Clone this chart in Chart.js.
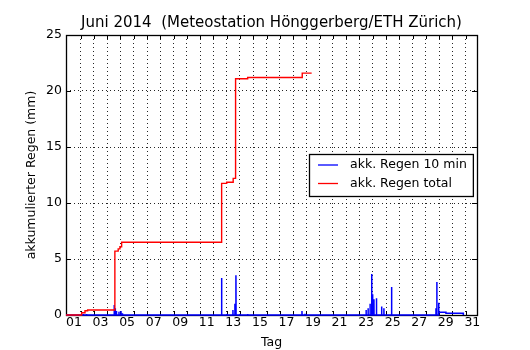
<!DOCTYPE html>
<html>
<head>
<meta charset="utf-8">
<script src="https://cdn.jsdelivr.net/npm/chart.js@4.4.1/dist/chart.umd.min.js"></script>
<style>
    html, body { margin: 0; padding: 0; background: #fff; }
</style>
</head>
<body>
<canvas id="rainChart" width="530" height="350"></canvas>
<script>
// x = Tag im Juni als Dezimalzahl, 1.0 = 01.06. 00:00
const titleText = 'Juni 2014  (Meteostation Hönggerberg/ETH Zürich)';

// akkumulierter Regen total (Treppenlinie)
const totalDays = [0.9, 2.08, 2.33, 2.53, 4.58, 4.83, 4.96, 5.09, 12.62, 13.0, 13.49, 13.67, 14.58, 18.69, 19.4];
const totalMm   = [0,   0.2,  0.38, 0.45, 5.7,  5.9,  6.1,  6.5,  11.75, 11.85, 12.2, 21.1, 21.2, 21.6, 21.6];

// Regen pro 10 min: einzelne Spitzen
const burstDays = [2.2, 2.45, 4.53, 4.61, 4.7, 4.89, 5.04, 5.15, 12.62, 13.02, 13.47, 13.62, 13.7, 14.0, 14.58,
                   18.67, 18.9, 23.5, 23.65, 23.8, 23.92, 23.99, 24.09, 24.28, 24.67, 24.84, 25.42, 28.76, 28.83, 28.96];
const burstMm   = [0.1, 0.1, 0.9, 0.6, 0.35, 0.3, 0.35, 0.15, 3.3, 0.1, 0.45, 1.0, 3.55, 0.1, 0.1,
                   0.35, 0.1, 0.45, 0.6, 1.0, 3.65, 1.85, 1.4, 1.5, 0.75, 0.6, 2.5, 0.6, 2.95, 1.1];
// Nieselregen am Monatsende
const tailDays = [28.98, 29.51, 29.51, 30.82, 30.82];
const tailMm   = [0.25,  0.25,  0.15,  0.15,  0];

const tickLabels = ['01', '03', '05', '07', '09', '11', '13', '15', '17', '19', '21', '23', '25', '27', '29', '31'];
const labelDays  = [1, 3, 5, 7, 9, 11, 13, 15, 17, 19, 21, 23, 25, 27, 29, 31];
const gridDays   = [2, 3, 4, 5, 6, 7, 8, 9, 10, 11, 12, 13, 14, 15, 16, 17, 18, 19, 20, 21, 22, 23, 24, 25, 26, 27, 28, 29, 30, 31];
const yTicks     = [0, 5, 10, 15, 20, 25];

Chart.defaults.font.family = 'DejaVu Sans';
Chart.defaults.color = '#000';

const step = 0.007; // 10 Minuten
const blueData = [{x: 0.9, y: 0}];
burstDays.forEach((d, i) => {
    blueData.push({x: d - step, y: 0}, {x: d, y: burstMm[i]}, {x: d + step, y: 0});
});
tailDays.forEach((d, i) => blueData.push({x: d, y: tailMm[i]}));

const redData = totalDays.map((d, i) => ({x: d, y: totalMm[i]}));

// Rahmen, Ticks nach innen, Legende
const framePlugin = {
    id: 'frame',
    beforeDatasetsDraw(chart) {
        const {ctx, chartArea: a, scales: {x, y}} = chart;
        ctx.save();
        ctx.strokeStyle = '#000';
        ctx.lineWidth = 1;
        ctx.beginPath();
        x.ticks.forEach(t => {
            if (!Number.isInteger(t.value)) return;
            const px = Math.round(x.getPixelForValue(t.value)) + 0.5;
            ctx.moveTo(px, a.bottom); ctx.lineTo(px, a.bottom - 4);
            ctx.moveTo(px, a.top); ctx.lineTo(px, a.top + 4);
        });
        y.ticks.forEach(t => {
            const py = Math.round(y.getPixelForValue(t.value)) + 0.5;
            ctx.moveTo(a.left, py); ctx.lineTo(a.left + 5, py);
            ctx.moveTo(a.right, py); ctx.lineTo(a.right - 5, py);
        });
        ctx.stroke();
        ctx.lineWidth = 1.3;
        ctx.strokeRect(Math.round(a.left) + 0.5, Math.round(a.top) + 0.5,
            Math.round(a.right - a.left), Math.round(a.bottom - a.top));
        ctx.restore();
    },
    afterDatasetsDraw(chart) {
        const {ctx, chartArea: a} = chart;
        const sets = chart.data.datasets;
        ctx.save();
        ctx.font = '12.5px "DejaVu Sans"';
        const tw = Math.max(...sets.map(s => ctx.measureText(s.label).width));
        const w = tw + 47, h = 42;
        const left = Math.round(a.right - 4 - w), top = Math.round((a.top + a.bottom) / 2 - h / 2);
        ctx.fillStyle = '#fff';
        ctx.fillRect(left, top, w, h);
        ctx.strokeStyle = '#000';
        ctx.lineWidth = 1.3;
        ctx.strokeRect(left + 0.5, top + 0.5, w, h);
        sets.forEach((s, i) => {
            const yy = top + 11 + i * 18.5;
            ctx.strokeStyle = s.borderColor;
            ctx.lineWidth = 1.3;
            ctx.beginPath();
            ctx.moveTo(left + 9, yy); ctx.lineTo(left + 29, yy);
            ctx.stroke();
            ctx.fillStyle = '#000';
            ctx.textBaseline = 'middle';
            ctx.fillText(s.label, left + 41, yy);
        });
        ctx.restore();
    }
};

new Chart(document.getElementById('rainChart'), {
    type: 'line',
    data: {
        datasets: [{
            label: 'akk. Regen 10 min',
            data: blueData,
            borderColor: '#0000ff',
            borderWidth: 1.5,
            pointRadius: 0,
            clip: false,
            order: 2
        }, {
            label: 'akk. Regen total',
            data: redData,
            borderColor: '#ff0000',
            borderWidth: 1.4,
            pointRadius: 0,
            stepped: true,
            clip: false,
            order: 1
        }]
    },
    options: {
        responsive: false,
        animation: false,
        layout: { padding: { right: 53 } },
        plugins: {
            legend: { display: false },
            tooltip: { enabled: false },
            title: {
                display: true,
                text: titleText,
                fullSize: false,
                font: { size: 15, weight: 'normal' },
                padding: { top: 14, bottom: 3 }
            }
        },
        scales: {
            x: {
                type: 'linear',
                min: 0.9,
                max: 31.85,
                afterBuildTicks: scale => {
                    scale.ticks = gridDays.map(v => ({value: v}))
                        .concat(labelDays.map(d => ({value: d + 0.5})))
                        .sort((p, q) => p.value - q.value);
                },
                afterFit: scale => {
                    scale.height = 35;
                    scale.paddingLeft = 0;
                    scale.paddingRight = 0;
                },
                ticks: {
                    autoSkip: false,
                    maxRotation: 0,
                    padding: 0,
                    font: { size: 12.5 },
                    callback: value => {
                        const idx = labelDays.indexOf(value - 0.5);
                        return idx >= 0 ? tickLabels[idx] : '';
                    }
                },
                grid: {
                    drawTicks: false,
                    lineWidth: 1,
                    color: c => Number.isInteger(c.tick && c.tick.value) ? 'rgba(0,0,0,0.85)' : 'rgba(0,0,0,0)'
                },
                border: { display: false, dash: [1, 3] },
                title: {
                    display: true,
                    text: 'Tag',
                    font: { size: 12.5 },
                    padding: { top: 0, bottom: 0 }
                }
            },
            y: {
                min: 0,
                max: 25,
                afterBuildTicks: scale => {
                    scale.ticks = yTicks.map(v => ({value: v}));
                },
                afterFit: scale => {
                    scale.width = 66;
                    scale.paddingTop = 0;
                    scale.paddingBottom = 0;
                },
                ticks: {
                    padding: 4,
                    font: { size: 12.5 }
                },
                grid: {
                    drawTicks: false,
                    lineWidth: 1,
                    color: 'rgba(0,0,0,0.85)'
                },
                border: { display: false, dash: [1, 3] },
                title: {
                    display: true,
                    text: 'akkumulierter Regen (mm)',
                    font: { size: 12.5 },
                    padding: { top: 24, bottom: 0 }
                }
            }
        }
    },
    plugins: [framePlugin]
});
</script>
</body>
</html>
